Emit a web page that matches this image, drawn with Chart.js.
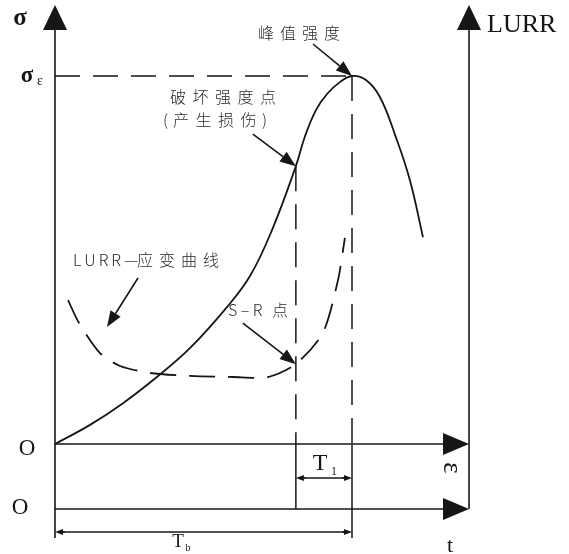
<!DOCTYPE html>
<html>
<head>
<meta charset="utf-8">
<script src="https://cdn.jsdelivr.net/npm/chart.js@4/dist/chart.umd.min.js"></script>
<style>
  html, body { margin: 0; padding: 0; background: #fff; }
  #wrap { width: 569px; height: 554px; }
</style>
</head>
<body>
<div id="wrap"><canvas id="c"></canvas></div>
<script>
// Stress–strain curve: strain ε normalised to the peak strain, stress σ normalised to σε
const strain = [0, 0.118, 0.229, 0.343, 0.455, 0.579, 0.657, 0.731, 0.811, 0.842, 0.879, 0.916, 0.960, 1.0, 1.047, 1.094, 1.145, 1.195, 1.239];
const stress = [0, 0.052, 0.111, 0.182, 0.261, 0.372, 0.457, 0.582, 0.755, 0.837, 0.908, 0.951, 0.984, 1.0, 0.989, 0.943, 0.840, 0.717, 0.562];
const damageIndex = 8;   // 破坏强度点
const peakIndex = 13;    // 峰值强度

// LURR–strain curve
const lurrStrain = [0.044, 0.080, 0.1515, 0.219, 0.320, 0.455, 0.599, 0.717, 0.811, 0.902, 0.953, 0.976];
const lurrValue  = [0.391, 0.330, 0.247, 0.212, 0.193, 0.185, 0.182, 0.182, 0.217, 0.302, 0.446, 0.560];
const srIndex = 8;       // S-R 点

// axis extents (same units as the data)
const strainAxisEnd = 1.394;
const stressAxisTop = 1.193;

// tick / axis labels
const axisLabels = { stress: 'σ', peakStress: 'σ', peakSub: 'ε', lurr: 'LURR', origin: 'O', strain: 'ε', time: 't', t1: 'T', t1Sub: '1', tb: 'T', tbSub: 'b' };
const notes = { peak: '峰值强度', damage: '破坏强度点', damage2: '产生损伤', lurrCurve: '应变曲线', sr: '点' };

const INK = '#161616';
const SERIF = '"Liberation Serif", "DejaVu Serif", serif';
const CJK = '"Noto Sans CJK SC", "Noto Sans", sans-serif';

function arrow(ctx, x1, y1, x2, y2, len, hw) {
  const a = Math.atan2(y2 - y1, x2 - x1);
  const bx = x2 - len * Math.cos(a), by = y2 - len * Math.sin(a);
  ctx.beginPath(); ctx.moveTo(x1, y1); ctx.lineTo(bx, by); ctx.stroke();
  ctx.beginPath(); ctx.moveTo(x2, y2);
  ctx.lineTo(bx + hw * Math.sin(a), by - hw * Math.cos(a));
  ctx.lineTo(bx - hw * Math.sin(a), by + hw * Math.cos(a));
  ctx.closePath(); ctx.fill();
}
function line(ctx, x1, y1, x2, y2, dash) {
  ctx.save();
  ctx.setLineDash(dash || []);
  ctx.beginPath(); ctx.moveTo(x1, y1); ctx.lineTo(x2, y2); ctx.stroke();
  ctx.restore();
}
function spaced(ctx, text, x, y, gap) {
  for (const ch of text) {
    ctx.fillText(ch, x, y);
    x += ctx.measureText(ch).width + gap;
  }
  return x;
}

const diagram = {
  id: 'diagram',
  beforeDatasetsDraw(chart) {
    const ctx = chart.ctx;
    const X = v => chart.scales.x.getPixelForValue(v);
    const Y = v => chart.scales.y.getPixelForValue(v);
    const x0 = X(0), y0 = Y(0);
    const xR = X(strainAxisEnd), yTop = Y(stressAxisTop);
    const xD = X(strain[damageIndex]), yD = Y(stress[damageIndex]);
    const xP = X(strain[peakIndex]), yP = Y(stress[peakIndex]);
    const yT = y0 + 65;       // time axis
    const yTb = y0 + 88;      // T_b dimension line

    ctx.save();
    ctx.strokeStyle = INK; ctx.fillStyle = INK; ctx.lineWidth = 1.6;

    // vertical axes σ and LURR
    line(ctx, x0, yTop + 10, x0, yTb + 6);
    arrow(ctx, x0, yTop + 20, x0, yTop, 25, 12);
    line(ctx, xR, yTop + 10, xR, yT);
    arrow(ctx, xR, yTop + 20, xR, yTop, 25, 12);
    // ε axis and t axis
    line(ctx, x0, y0, xR - 10, y0);
    arrow(ctx, xR - 20, y0, xR, y0, 26, 11);
    line(ctx, x0, yT, xR - 10, yT);
    arrow(ctx, xR - 20, yT, xR, yT, 26, 11);

    // guide lines
    ctx.lineWidth = 1.5;
    line(ctx, x0, yP, xP, yP, [25, 13]);
    line(ctx, xD, yD, xD, y0, [25, 13]);
    line(ctx, xP, yP, xP, y0, [25, 13]);
    line(ctx, xD, y0, xD, yT);
    line(ctx, xP, y0, xP, yTb + 6);

    // T1 and Tb dimension arrows
    ctx.lineWidth = 1.3;
    const y1 = y0 + 34;
    line(ctx, xD + 4, y1, xP - 4, y1);
    arrow(ctx, xD + 10, y1, xD, y1, 8, 3);
    arrow(ctx, xP - 10, y1, xP, y1, 8, 3);
    line(ctx, x0 + 4, yTb, xP - 4, yTb);
    arrow(ctx, x0 + 10, yTb, x0, yTb, 8, 3);
    arrow(ctx, xP - 10, yTb, xP, yTb, 8, 3);
    ctx.restore();
  },
  afterDatasetsDraw(chart) {
    const ctx = chart.ctx;
    const X = v => chart.scales.x.getPixelForValue(v);
    const Y = v => chart.scales.y.getPixelForValue(v);
    const xD = X(strain[damageIndex]), yD = Y(stress[damageIndex]);
    const xP = X(strain[peakIndex]), yP = Y(stress[peakIndex]);
    const xS = X(lurrStrain[srIndex]), yS = Y(lurrValue[srIndex]);
    const y0 = Y(0);

    ctx.save();
    ctx.strokeStyle = INK; ctx.fillStyle = INK; ctx.lineWidth = 1.6;

    // callout arrows
    arrow(ctx, xP - 39, yP - 32, xP, yP, 16, 6);
    arrow(ctx, xD - 43, yD - 32, xD, yD, 16, 6);
    arrow(ctx, 138, 278, 107, 327, 16, 6);
    arrow(ctx, xS - 53, yS - 41, xS, yS, 16, 6);

    // serif axis symbols
    ctx.textBaseline = 'middle';
    ctx.textAlign = 'center';
    ctx.font = 'bold 25px ' + SERIF;
    ctx.fillText(axisLabels.stress, 20, 19);
    ctx.font = 'bold 23px ' + SERIF;
    ctx.fillText(axisLabels.peakStress, 27, 76);
    ctx.font = '14px ' + SERIF;
    ctx.fillText(axisLabels.peakSub, 40, 81);
    ctx.font = '23px ' + SERIF;
    ctx.fillText(axisLabels.origin, 27, y0 + 5);
    ctx.fillText(axisLabels.origin, 20, y0 + 64);
    ctx.textAlign = 'left';
    ctx.font = '26px ' + SERIF;
    ctx.fillText(axisLabels.lurr, 487, 25);
    ctx.textAlign = 'center';
    ctx.font = '24px ' + SERIF;
    ctx.fillText(axisLabels.t1, 320, y0 + 20);
    ctx.font = '12px ' + SERIF;
    ctx.fillText(axisLabels.t1Sub, 334, y0 + 28);
    ctx.font = '19px ' + SERIF;
    ctx.fillText(axisLabels.tb, 178, y0 + 98);
    ctx.font = '10px ' + SERIF;
    ctx.fillText(axisLabels.tbSub, 188, y0 + 104);
    ctx.font = '22px ' + SERIF;
    ctx.fillText(axisLabels.time, 450, y0 + 102);
    ctx.save();
    ctx.translate(451, y0 + 24);
    ctx.rotate(Math.PI / 2);
    ctx.font = '27px ' + SERIF;
    ctx.fillText(axisLabels.strain, 0, 0);
    ctx.restore();

    // Chinese annotations
    ctx.textAlign = 'left';
    ctx.fillStyle = '#2a2a2a';
    ctx.font = '300 16px ' + CJK;
    spaced(ctx, notes.peak, 258, 33, 6);
    spaced(ctx, notes.damage, 170, 97, 6.5);
    let x = spaced(ctx, '(', 163, 120, 5);
    x = spaced(ctx, notes.damage2, x, 120, 6.5);
    spaced(ctx, ')', x - 1, 120, 0);
    x = spaced(ctx, 'LURR', 73, 260, 3);
    ctx.fillText('—', x, 260);
    spaced(ctx, notes.lurrCurve, 137, 260, 6);
    x = spaced(ctx, 'S–R', 228, 310, 3.5);
    spaced(ctx, notes.sr, x + 6, 310, 0);
    ctx.restore();
  }
};

new Chart(document.getElementById('c'), {
  type: 'line',
  data: {
    datasets: [
      {
        label: 'σ–ε',
        data: strain.map((e, i) => ({ x: e, y: stress[i] })),
        borderColor: INK, borderWidth: 1.8,
        pointRadius: 0, tension: 0.4, fill: false
      },
      {
        label: 'LURR–ε',
        data: lurrStrain.map((e, i) => ({ x: e, y: lurrValue[i] })),
        borderColor: INK, borderWidth: 1.8, borderDash: [26, 13],
        pointRadius: 0, tension: 0.25, fill: false
      }
    ]
  },
  options: {
    responsive: true, maintainAspectRatio: false, animation: false,
    layout: { padding: 0 },
    plugins: { legend: { display: false }, tooltip: { enabled: false } },
    scales: {
      x: { type: 'linear', display: false, min: -55 / 297, max: 514 / 297 },
      y: { type: 'linear', display: false, min: -110 / 368, max: 444 / 368 }
    }
  },
  plugins: [diagram]
});
</script>
</body>
</html>
